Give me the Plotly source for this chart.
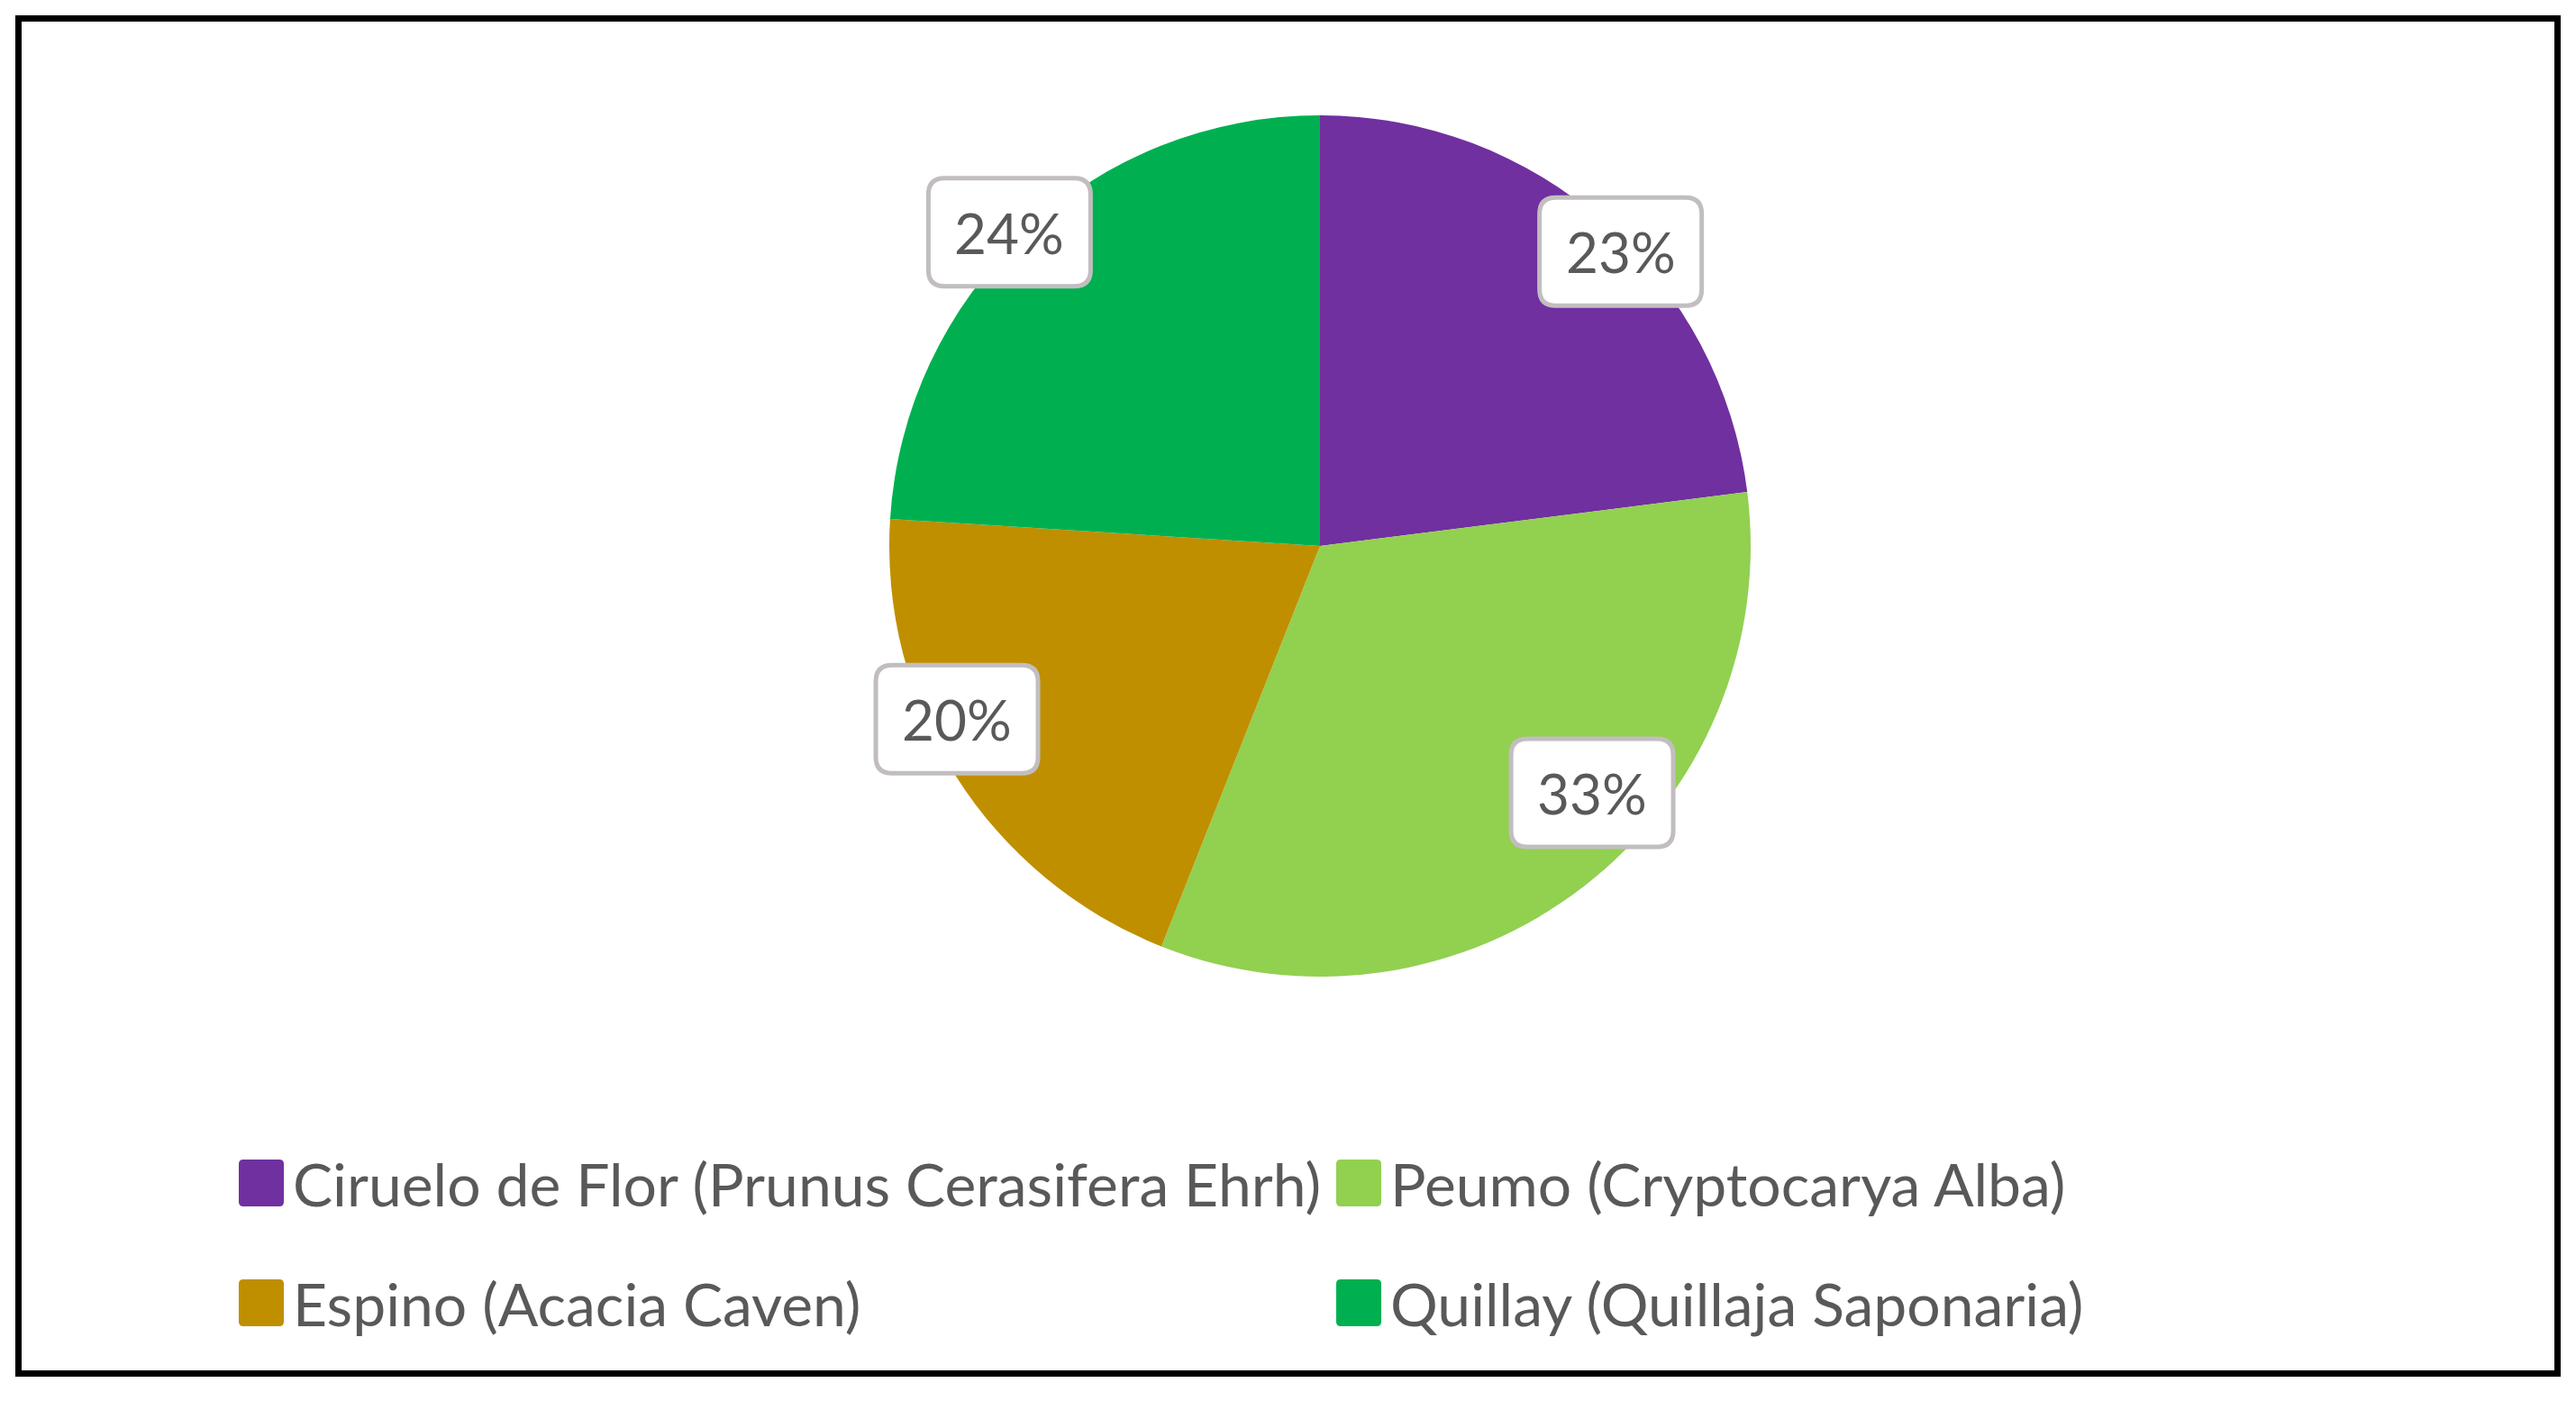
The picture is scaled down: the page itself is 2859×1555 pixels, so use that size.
import math
import plotly.graph_objects as go

W, H = 2859, 1555
OFF = 8  # page body margin

# data
species = [
    "Ciruelo de Flor (Prunus Cerasifera Ehrh)",
    "Peumo (Cryptocarya Alba)",
    "Espino (Acacia Caven)",
    "Quillay (Quillaja Saponaria)",
]
shares = [23, 33, 20, 24]
colors = ["#7030A0", "#92D050", "#BF8F00", "#00B050"]

# label placement tweaks (Excel "best fit" look)
label_nudge_deg = [4.2, -10.0, 6.9, -1.5]
label_rfrac = [0.977, 0.853, 0.934, 1.025]

# legend grid (pixels)
legend_cols_x = [265, 1483]
legend_rows_y = [1313, 1446]

cx, cy, R = 1465, 606, 478
TXT = "#595959"
FONT = "Lato"


def px(x):
    return (x - OFF) / W


def py(y):
    return 1 - (y - OFF) / H


def rounded_box(xc, yc, w, h, r):
    x0, x1 = xc - w / 2, xc + w / 2
    y0, y1 = yc - h / 2, yc + h / 2
    pts = [
        f"M{px(x0 + r)},{py(y0)}",
        f"L{px(x1 - r)},{py(y0)}",
        f"Q{px(x1)},{py(y0)} {px(x1)},{py(y0 + r)}",
        f"L{px(x1)},{py(y1 - r)}",
        f"Q{px(x1)},{py(y1)} {px(x1 - r)},{py(y1)}",
        f"L{px(x0 + r)},{py(y1)}",
        f"Q{px(x0)},{py(y1)} {px(x0)},{py(y1 - r)}",
        f"L{px(x0)},{py(y0 + r)}",
        f"Q{px(x0)},{py(y0)} {px(x0 + r)},{py(y0)}",
        "Z",
    ]
    return " ".join(pts)


fig = go.Figure()
fig.add_trace(go.Pie(
    labels=species,
    values=shares,
    sort=False,
    direction="clockwise",
    rotation=0,
    marker=dict(colors=colors, line=dict(width=0)),
    textinfo="none",
    hoverinfo="label+percent",
    showlegend=False,
    domain=dict(x=[px(cx - R), px(cx + R)], y=[py(cy + R), py(cy - R)]),
))

shapes = []
annotations = []

# data labels in rounded boxes
total = sum(shares)
cum = 0
for i, v in enumerate(shares):
    mid = (cum + v / 2) / total * 360 + label_nudge_deg[i]
    cum += v
    a = math.radians(mid)
    lx = cx + R * label_rfrac[i] * math.sin(a)
    ly = cy - R * label_rfrac[i] * math.cos(a)
    shapes.append(dict(
        type="path", xref="paper", yref="paper", layer="above",
        path=rounded_box(lx, ly, 180, 120, 18),
        fillcolor="white", line=dict(color="#C2BEC0", width=5),
    ))
    annotations.append(dict(
        x=px(lx), y=py(ly), xref="paper", yref="paper",
        text=f"{round(v / total * 100)}%", showarrow=False,
        xanchor="center", yanchor="middle",
        font=dict(family=FONT, size=62, color=TXT),
    ))

# legend built from the same lists
for i, (name, col) in enumerate(zip(species, colors)):
    x0 = legend_cols_x[i % 2]
    yc = legend_rows_y[i // 2]
    shapes.append(dict(
        type="path", xref="paper", yref="paper", layer="above",
        path=rounded_box(x0 + 25, yc, 50, 52, 5),
        fillcolor=col, line=dict(width=0),
    ))
    annotations.append(dict(
        x=px(x0 + 58), y=py(yc), xref="paper", yref="paper",
        text=name, showarrow=False, xanchor="left", yanchor="middle",
        font=dict(family=FONT, size=66, color=TXT),
    ))

# outer frame
shapes.append(dict(
    type="rect", xref="paper", yref="paper", layer="above",
    x0=px(20.5), x1=px(2838.5), y0=py(1524.5), y1=py(20.5),
    line=dict(color="black", width=7), fillcolor="rgba(0,0,0,0)",
))

fig.update_layout(
    width=W, height=H,
    margin=dict(l=0, r=0, t=0, b=0),
    paper_bgcolor="white",
    plot_bgcolor="white",
    shapes=shapes,
    annotations=annotations,
    showlegend=False,
)

fig.write_html("out.html")
